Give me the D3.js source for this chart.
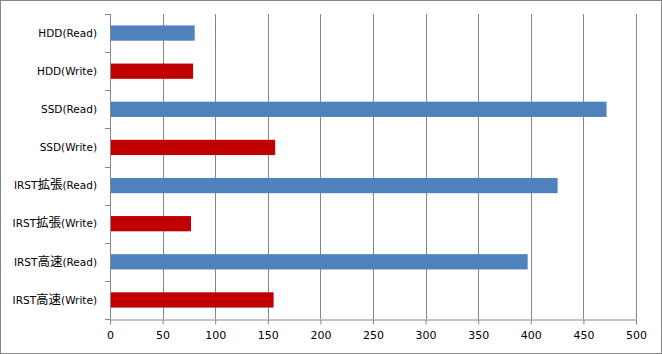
<!DOCTYPE html>
<html>
<head>
<meta charset="utf-8">
<script src="https://cdn.jsdelivr.net/npm/d3@7"></script>
<style>
  body { margin: 0; background: #fff; }
  text { font-family: "DejaVu Sans", "Noto Sans CJK JP", sans-serif; }
</style>
</head>
<body>
<div id="chart"></div>
<script>
// data
const categories = ["HDD(Read)", "HDD(Write)", "SSD(Read)", "SSD(Write)",
    "IRST拡張(Read)", "IRST拡張(Write)", "IRST高速(Read)", "IRST高速(Write)"];
const values = [80.5, 79, 472, 157, 425.5, 77, 397, 155.5];
const kinds = ["Read", "Write", "Read", "Write", "Read", "Write", "Read", "Write"];
const xTicks = [0, 50, 100, 150, 200, 250, 300, 350, 400, 450, 500];

const W = 662, H = 354;
const margin = { top: 14, right: 26, bottom: 35, left: 110 },
    width = W - margin.left - margin.right,
    height = H - margin.top - margin.bottom;

const svg = d3.select("#chart")
    .append("svg")
    .attr("width", W)
    .attr("height", H);

// outer chart border
svg.append("rect")
    .attr("x", 0.5).attr("y", 0.5)
    .attr("width", W - 1).attr("height", H - 1)
    .attr("fill", "#fff")
    .attr("stroke", "#868686");

const g = svg.append("g")
    .attr("transform", `translate(${margin.left},${margin.top})`);

const x = d3.scaleLinear().domain([0, 500]).range([0, width]);
const y = d3.scaleBand().domain(categories).range([0, height])
    .paddingInner(0.6).paddingOuter(0.3);
const color = d3.scaleOrdinal().domain(["Read", "Write"]).range(["#4F81BD", "#C00000"]);

// vertical gridlines
g.selectAll(".grid")
    .data(xTicks.slice(1))
    .join("line")
    .attr("x1", d => Math.round(x(d)) + 0.5)
    .attr("x2", d => Math.round(x(d)) + 0.5)
    .attr("y1", 0)
    .attr("y2", height)
    .attr("stroke", "#868686");

// bars
g.selectAll(".bar")
    .data(categories)
    .join("rect")
    .attr("x", 0)
    .attr("y", d => y(d))
    .attr("width", (d, i) => x(values[i]))
    .attr("height", y.bandwidth())
    .attr("fill", (d, i) => color(kinds[i]));

// bottom axis
const xAxis = g.append("g")
    .attr("transform", `translate(0,${Math.round(height) + 0.5})`)
    .call(d3.axisBottom(x).tickValues(xTicks).tickSize(5).tickPadding(7).tickSizeOuter(0));
xAxis.select(".domain").attr("stroke", "#868686");
xAxis.selectAll(".tick line").attr("stroke", "#868686");
xAxis.selectAll("text").attr("font-size", 11).attr("fill", "#000")
    .style("font-family", "'DejaVu Sans', sans-serif");

// left axis, ticks sit between categories
const step = y.step();
const yAxis = g.append("g");
yAxis.append("line")
    .attr("x1", 0.5).attr("x2", 0.5)
    .attr("y1", 0).attr("y2", height)
    .attr("stroke", "#868686");
yAxis.selectAll(".yt")
    .data(d3.range(categories.length + 1))
    .join("line")
    .attr("x1", -5).attr("x2", 0.5)
    .attr("y1", i => Math.round(i * step) + 0.5)
    .attr("y2", i => Math.round(i * step) + 0.5)
    .attr("stroke", "#868686");

const labels = yAxis.selectAll(".ylab")
    .data(categories)
    .join("text")
    .attr("x", -13)
    .attr("y", d => y(d) + y.bandwidth() / 2)
    .attr("dy", "0.36em")
    .attr("text-anchor", "end")
    .attr("font-size", 10.5)
    .attr("fill", "#000");

// CJK glyphs drawn a bit larger, like the original font
labels.each(function (d) {
    const parts = d.match(/[\u3000-\u9fff]+|[^\u3000-\u9fff]+/g);
    d3.select(this).selectAll("tspan")
        .data(parts)
        .join("tspan")
        .attr("font-size", p => /[\u3000-\u9fff]/.test(p) ? 12.5 : null)
        .style("font-family", p => /[\u3000-\u9fff]/.test(p) ? "'Noto Sans CJK JP', sans-serif" : null)
        .text(p => p);
});
</script>
</body>
</html>
